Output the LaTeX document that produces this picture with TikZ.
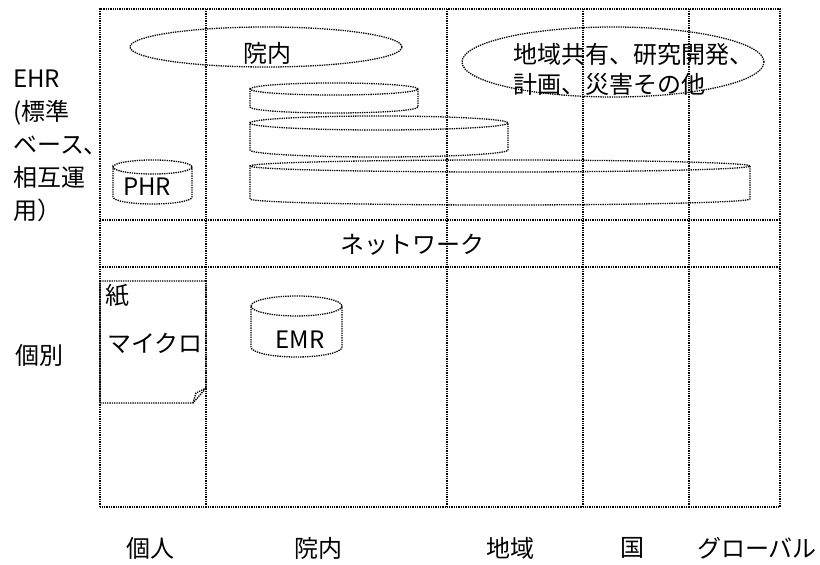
\documentclass[tikz,border=0pt]{standalone}
\usepackage{fontspec}
\setmainfont{Noto Sans CJK JP}
\usetikzlibrary{shapes.geometric}

\tikzset{
  dotline/.style={densely dotted, line width=1.3pt},
  lbl/.style={inner sep=0pt, font=\fontsize{24}{30}\selectfont},
}

\begin{document}
\begin{tikzpicture}[x=1pt, y=1pt]
\useasboundingbox (0,0) rectangle (820,565);

% grid
\draw[dotline] (100,58) rectangle (780,556);
\draw[dotline] (100,345) -- (780,345);
\draw[dotline] (100,298) -- (780,298);
\foreach \x in {206,447,583,689}
  \draw[dotline] (\x,58) -- (\x,556);

% EHR row
\node[ellipse, draw, dotline, minimum width=272, minimum height=40] (innaiE) at (266,518) {};
\node[lbl] (innai) at (267,512) {院内};
\node[ellipse, draw, dotline, minimum width=302, minimum height=70] (chiikiE) at (613,503) {};
\node[lbl, anchor=west, align=left] (chiiki) at (513,496) {地域共有、研究開発、\\計画、災害その他};

\draw[dotline] (250,476) arc[start angle=180, end angle=-180, x radius=84pt, y radius=6pt]
  -- (250,458) arc[start angle=180, end angle=360, x radius=84pt, y radius=6pt] -- (418,476);
\draw[dotline] (250,442) arc[start angle=180, end angle=-180, x radius=129pt, y radius=7pt]
  -- (250,415) arc[start angle=180, end angle=360, x radius=129pt, y radius=7pt] -- (508,442);
\draw[dotline] (250,399) arc[start angle=180, end angle=-180, x radius=250pt, y radius=6pt]
  -- (250,366) arc[start angle=180, end angle=360, x radius=250pt, y radius=6pt] -- (750,399);
\draw[dotline] (113,398) arc[start angle=180, end angle=-180, x radius=39.5pt, y radius=7pt]
  -- (113,368) arc[start angle=180, end angle=360, x radius=39.5pt, y radius=7pt] -- (192,398);
\node[lbl] (phr) at (147,378) {PHR};

\node[lbl, anchor=west, align=left, font=\fontsize{24}{33}\selectfont] (ehr) at (13,419)
  {EHR\\(標準\\ベース、\\相互運\\用）};

% network row
\node[lbl] (net) at (412,320) {ネットワーク};

% individual row
\draw[dotline] (100,284) -- (206,284) -- (206,177) -- (193,162) -- (100,162) -- cycle;
\draw[dotline] (193,162) -- (196,172) -- (206,177);
\node[lbl, anchor=west] (kami) at (105,269) {紙};
\node[lbl, anchor=west] (micro) at (107,222) {マイクロ};

\draw[dotline] (251,259) arc[start angle=180, end angle=-180, x radius=45.5pt, y radius=10pt]
  -- (251,218) arc[start angle=180, end angle=360, x radius=45.5pt, y radius=10pt] -- (342,259);
\node[lbl] (emr) at (300,225) {EMR};

\node[lbl, anchor=west] (kobetsu) at (15,210) {個別};

% axis labels
\node[lbl] (kojin) at (150,17) {個人};
\node[lbl] (innaiX) at (318,17) {院内};
\node[lbl] (chiikiX) at (510,17) {地域};
\node[lbl] (kuni) at (632,17) {国};
\node[lbl] (global) at (757,17) {グローバル};
\end{tikzpicture}
\end{document}
